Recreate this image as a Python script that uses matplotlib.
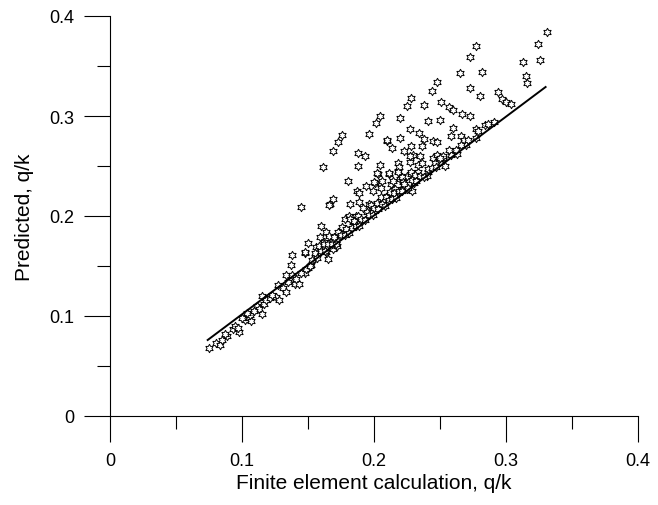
import numpy as np
import matplotlib
matplotlib.use("Agg")
import matplotlib.pyplot as plt
from matplotlib.path import Path

# ---------------- data ----------------
fe_low = [0.075, 0.080, 0.083, 0.085, 0.089, 0.093, 0.095, 0.098, 0.097, 0.102,
          0.105, 0.107, 0.106, 0.111, 0.113, 0.115, 0.115, 0.117, 0.126, 0.127,
          0.128, 0.131, 0.133, 0.133, 0.137, 0.138, 0.138, 0.140, 0.143, 0.141,
          0.148, 0.148, 0.150, 0.152, 0.087, 0.100, 0.104, 0.109, 0.118, 0.121,
          0.123, 0.135, 0.145]
pr_low = [0.068, 0.073, 0.071, 0.076, 0.080, 0.087, 0.090, 0.084, 0.088, 0.096,
          0.098, 0.095, 0.101, 0.110, 0.107, 0.102, 0.120, 0.112, 0.119, 0.131,
          0.116, 0.128, 0.124, 0.141, 0.151, 0.161, 0.141, 0.132, 0.132, 0.137,
          0.163, 0.143, 0.148, 0.151, 0.082, 0.098, 0.103, 0.105, 0.116, 0.118,
          0.121, 0.134, 0.143]

fe_mid = [0.1485, 0.1515, 0.148, 0.150, 0.145, 0.156, 0.159, 0.162, 0.160, 0.164,
          0.164, 0.165, 0.169, 0.169, 0.171, 0.167, 0.169, 0.172, 0.174, 0.176,
          0.178, 0.180, 0.182, 0.181, 0.184, 0.186, 0.187, 0.189, 0.189, 0.194,
          0.196, 0.197, 0.199, 0.201, 0.203, 0.205, 0.206, 0.207, 0.210, 0.211,
          0.213, 0.216, 0.218, 0.220, 0.222, 0.225, 0.228, 0.230, 0.232,
          0.161, 0.169, 0.173, 0.1755, 0.166, 0.188, 0.193, 0.188, 0.2045, 0.2025,
          0.210, 0.200, 0.2146, 0.221, 0.2222, 0.2247, 0.2285, 0.2336, 0.2273,
          0.2298, 0.2581, 0.2444, 0.250, 0.252]
pr_mid = [0.147, 0.150, 0.164, 0.173, 0.209, 0.169, 0.179, 0.174, 0.190, 0.184,
          0.164, 0.157, 0.167, 0.176, 0.172, 0.212, 0.217, 0.170, 0.180, 0.186,
          0.197, 0.235, 0.212, 0.200, 0.194, 0.200, 0.225, 0.223, 0.214, 0.230,
          0.212, 0.204, 0.225, 0.233, 0.242, 0.228, 0.235, 0.215, 0.220, 0.242,
          0.232, 0.227, 0.245, 0.237, 0.227, 0.240, 0.242, 0.233, 0.242,
          0.249, 0.265, 0.274, 0.281, 0.211, 0.263, 0.260, 0.250, 0.251, 0.243,
          0.275, 0.234, 0.235, 0.239, 0.234, 0.227, 0.225, 0.244, 0.254,
          0.261, 0.261, 0.258, 0.254, 0.258]

fe_high = [0.331, 0.324, 0.326, 0.313, 0.315, 0.316, 0.277, 0.273, 0.265, 0.282,
           0.273, 0.280, 0.294, 0.297, 0.300, 0.304, 0.248, 0.244, 0.228, 0.225,
           0.238, 0.251, 0.257, 0.260, 0.267, 0.273, 0.2045, 0.2015, 0.220, 0.241,
           0.250, 0.291, 0.284, 0.277, 0.260, 0.227, 0.1965, 0.234, 0.258, 0.266,
           0.2096, 0.220, 0.238, 0.245, 0.248, 0.268, 0.277, 0.270, 0.214, 0.228,
           0.236, 0.2565, 0.223, 0.227, 0.235, 0.2475, 0.2525, 0.263, 0.218, 0.219,
           0.233, 0.236, 0.246, 0.249, 0.254, 0.211, 0.218, 0.228, 0.231, 0.241,
           0.240]
pr_high = [0.384, 0.372, 0.356, 0.354, 0.340, 0.333, 0.370, 0.359, 0.343, 0.344,
           0.328, 0.320, 0.324, 0.317, 0.314, 0.312, 0.334, 0.325, 0.318, 0.310,
           0.311, 0.314, 0.309, 0.306, 0.302, 0.300, 0.300, 0.293, 0.298, 0.295,
           0.296, 0.294, 0.291, 0.287, 0.288, 0.287, 0.282, 0.283, 0.280, 0.280,
           0.276, 0.278, 0.277, 0.275, 0.274, 0.276, 0.278, 0.271, 0.268, 0.270,
           0.270, 0.266, 0.265, 0.260, 0.260, 0.261, 0.260, 0.262, 0.253, 0.249,
           0.251, 0.253, 0.253, 0.257, 0.250, 0.243, 0.244, 0.244, 0.241, 0.244,
           0.240]

fe_band = [0.153, 0.155, 0.157, 0.158, 0.160, 0.162, 0.163, 0.165, 0.166, 0.168,
           0.170, 0.171, 0.173, 0.175, 0.176, 0.178, 0.179, 0.181, 0.182, 0.183,
           0.185, 0.186, 0.188, 0.189, 0.190, 0.192, 0.193, 0.195, 0.196, 0.198,
           0.199, 0.200, 0.202, 0.203, 0.205, 0.206, 0.208, 0.209, 0.211, 0.212,
           0.214, 0.215, 0.217, 0.219, 0.221, 0.223, 0.226, 0.229, 0.232, 0.235,
           0.238, 0.241, 0.244, 0.247, 0.250, 0.262, 0.266, 0.271, 0.279, 0.286]
pr_band = [0.156, 0.163, 0.158, 0.170, 0.165, 0.172, 0.165, 0.172, 0.180, 0.172,
           0.179, 0.172, 0.184, 0.181, 0.189, 0.181, 0.187, 0.183, 0.197, 0.188,
           0.195, 0.190, 0.200, 0.190, 0.197, 0.208, 0.196, 0.204, 0.201, 0.211,
           0.201, 0.208, 0.213, 0.207, 0.219, 0.212, 0.210, 0.219, 0.216, 0.224,
           0.217, 0.223, 0.218, 0.225, 0.225, 0.232, 0.228, 0.236, 0.235, 0.240,
           0.239, 0.247, 0.248, 0.249, 0.258, 0.266, 0.271, 0.276, 0.285, 0.292]

fit_x = [0.074, 0.330]
fit_y = [0.076, 0.329]

tick_vals = [0.0, 0.1, 0.2, 0.3, 0.4]
tick_labels = ["0", "0.1", "0.2", "0.3", "0.4"]
minor_vals = [0.05, 0.15, 0.25, 0.35]

x_label = "Finite element calculation, q/k"
y_label = "Predicted, q/k"

# ---------------- style ----------------
plt.rcParams["font.family"] = ["Liberation Sans", "DejaVu Sans"]

# hexagram marker (six-pointed star outline)
ang = np.deg2rad(90 + np.arange(12) * 30)
rad = np.where(np.arange(12) % 2 == 0, 1.0, 1 / np.sqrt(3))
verts = np.column_stack([rad * np.cos(ang), rad * np.sin(ang)])
verts = np.vstack([verts, verts[:1]])
codes = [Path.MOVETO] + [Path.LINETO] * 11 + [Path.CLOSEPOLY]
hexagram = Path(verts, codes)

fig = plt.figure(figsize=(6.58, 5.06), dpi=100)
ax = fig.add_axes([110 / 658, 89 / 506, 528 / 658, 400 / 506])

xs = fe_low + fe_mid + fe_high + fe_band
ys = pr_low + pr_mid + pr_high + pr_band
ax.plot(xs, ys, linestyle="none", marker=hexagram, markersize=6,
        markerfacecolor="white", markeredgecolor="black", markeredgewidth=0.7,
        zorder=2)
ax.plot(fit_x, fit_y, color="black", linewidth=1.4, zorder=3)

ax.set_xlim(0, 0.4)
ax.set_ylim(0, 0.4)
for s in ("top", "right"):
    ax.spines[s].set_visible(False)
for s in ("left", "bottom"):
    ax.spines[s].set_linewidth(0.8)

ax.set_xticks(tick_vals)
ax.set_xticklabels(tick_labels)
ax.set_yticks(tick_vals)
ax.set_yticklabels(tick_labels)
ax.set_xticks(minor_vals, minor=True)
ax.set_yticks(minor_vals, minor=True)
ax.tick_params(which="major", direction="out", length=19, width=0.8,
               labelsize=13, pad=7)
ax.tick_params(which="minor", direction="out", length=9.5, width=0.8)
ax.tick_params(axis="x", which="major", pad=7)

ax.set_xlabel(x_label, fontsize=15, labelpad=3)
ax.set_ylabel(y_label, fontsize=15, labelpad=11)

fig.savefig("out.png", dpi=100)
